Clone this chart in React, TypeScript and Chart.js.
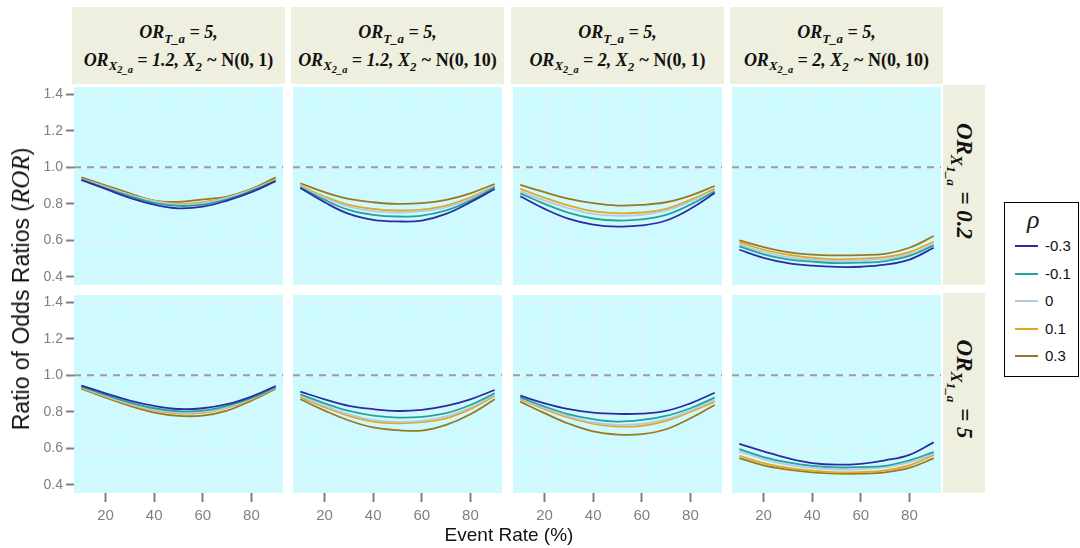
import React, { useEffect, useRef } from "react";
import { Chart, registerables } from "chart.js";
Chart.register(...registerables);

// x values (event rate, %)
const EVENT_RATE = [10, 20, 30, 40, 50, 60, 70, 80, 90];
const X_GRID = [10, 20, 30, 40, 50, 60, 70, 80, 90];
const X_LABELS = [20, 40, 60, 80];
const Y_GRID = [0.4, 0.5, 0.6, 0.7, 0.8, 0.9, 1.0, 1.1, 1.2, 1.3, 1.4];
const Y_LABELS = [0.4, 0.6, 0.8, 1.0, 1.2, 1.4];
const REF_LINE = 1.0;

const RHO_LABELS = ["-0.3", "-0.1", "0", "0.1", "0.3"];
const RHO_COLORS = ["#2b2ba6", "#23a39b", "#b6c9dd", "#e5a51c", "#9a7822"];

// each panel: series in order rho = -0.3, -0.1, 0, 0.1, 0.3
const PANEL_R1C1 = [
  [0.931, 0.882, 0.833, 0.796, 0.776, 0.785, 0.818, 0.864, 0.924],
  [0.933, 0.887, 0.842, 0.805, 0.789, 0.796, 0.825, 0.871, 0.927],
  [0.936, 0.893, 0.849, 0.815, 0.796, 0.804, 0.833, 0.876, 0.931],
  [0.936, 0.895, 0.851, 0.818, 0.8, 0.809, 0.836, 0.88, 0.933],
  [0.945, 0.902, 0.858, 0.818, 0.811, 0.825, 0.84, 0.882, 0.945],
];
const PANEL_R1C2 = [
  [0.887, 0.809, 0.745, 0.713, 0.704, 0.709, 0.745, 0.809, 0.882],
  [0.891, 0.822, 0.767, 0.74, 0.731, 0.736, 0.764, 0.818, 0.891],
  [0.896, 0.833, 0.785, 0.76, 0.753, 0.76, 0.782, 0.827, 0.895],
  [0.9, 0.84, 0.795, 0.773, 0.764, 0.769, 0.791, 0.836, 0.898],
  [0.913, 0.864, 0.827, 0.809, 0.8, 0.804, 0.822, 0.858, 0.909],
];
const PANEL_R1C3 = [
  [0.842, 0.773, 0.718, 0.687, 0.676, 0.682, 0.709, 0.773, 0.86],
  [0.858, 0.8, 0.751, 0.72, 0.709, 0.715, 0.74, 0.796, 0.867],
  [0.869, 0.818, 0.776, 0.745, 0.735, 0.74, 0.764, 0.813, 0.873],
  [0.882, 0.833, 0.791, 0.76, 0.749, 0.753, 0.773, 0.822, 0.882],
  [0.904, 0.864, 0.827, 0.804, 0.791, 0.795, 0.809, 0.845, 0.898],
];
const PANEL_R1C4 = [
  [0.549, 0.505, 0.476, 0.462, 0.455, 0.456, 0.467, 0.495, 0.56],
  [0.567, 0.524, 0.496, 0.484, 0.476, 0.478, 0.487, 0.515, 0.573],
  [0.578, 0.536, 0.509, 0.495, 0.487, 0.491, 0.5, 0.524, 0.578],
  [0.591, 0.549, 0.522, 0.505, 0.496, 0.5, 0.509, 0.536, 0.593],
  [0.6, 0.564, 0.536, 0.522, 0.518, 0.52, 0.527, 0.56, 0.624],
];
const PANEL_R2C1 = [
  [0.944, 0.902, 0.862, 0.833, 0.816, 0.82, 0.842, 0.884, 0.942],
  [0.938, 0.893, 0.851, 0.82, 0.804, 0.807, 0.833, 0.876, 0.935],
  [0.935, 0.887, 0.844, 0.811, 0.796, 0.8, 0.825, 0.873, 0.933],
  [0.931, 0.884, 0.84, 0.807, 0.791, 0.795, 0.822, 0.869, 0.931],
  [0.927, 0.878, 0.833, 0.796, 0.778, 0.78, 0.807, 0.862, 0.927],
];
const PANEL_R2C2 = [
  [0.911, 0.869, 0.833, 0.815, 0.805, 0.811, 0.833, 0.869, 0.92],
  [0.896, 0.847, 0.805, 0.78, 0.769, 0.773, 0.793, 0.838, 0.902],
  [0.887, 0.833, 0.787, 0.756, 0.745, 0.751, 0.775, 0.824, 0.893],
  [0.88, 0.825, 0.778, 0.747, 0.738, 0.744, 0.765, 0.815, 0.887],
  [0.869, 0.807, 0.753, 0.715, 0.7, 0.698, 0.729, 0.787, 0.869],
];
const PANEL_R2C3 = [
  [0.889, 0.847, 0.815, 0.796, 0.789, 0.791, 0.805, 0.847, 0.905],
  [0.88, 0.829, 0.787, 0.76, 0.747, 0.756, 0.778, 0.82, 0.878],
  [0.875, 0.82, 0.775, 0.742, 0.729, 0.735, 0.76, 0.807, 0.865],
  [0.869, 0.815, 0.769, 0.735, 0.72, 0.724, 0.751, 0.8, 0.856],
  [0.856, 0.793, 0.735, 0.693, 0.676, 0.678, 0.705, 0.765, 0.838],
];
const PANEL_R2C4 = [
  [0.625, 0.584, 0.547, 0.52, 0.511, 0.516, 0.535, 0.565, 0.633],
  [0.596, 0.553, 0.524, 0.505, 0.496, 0.498, 0.505, 0.535, 0.58],
  [0.584, 0.542, 0.511, 0.493, 0.484, 0.487, 0.498, 0.524, 0.571],
  [0.56, 0.52, 0.493, 0.478, 0.469, 0.471, 0.48, 0.507, 0.565],
  [0.547, 0.507, 0.484, 0.469, 0.462, 0.462, 0.469, 0.493, 0.547],
];

const PANELS = [
  [PANEL_R1C1, PANEL_R1C2, PANEL_R1C3, PANEL_R1C4],
  [PANEL_R2C1, PANEL_R2C2, PANEL_R2C3, PANEL_R2C4],
];

// layout
const COL_LEFT = [74, 293, 513, 732];
const PANEL_W = 209;
const ROW_TOP = [87, 295];
const PANEL_H = 198;
const Y_AXIS_W = 41;
const X_AXIS_H = 32;

const PANEL_BG = "#ccfaff";
const STRIP_BG = "#efefdf";
const SERIF = "'Liberation Serif', 'Times New Roman', serif";
const SANS = "'Liberation Sans', Arial, sans-serif";

const bgPlugin = {
  id: "panelBg",
  beforeDraw(chart: any) {
    const { ctx, chartArea } = chart;
    ctx.save();
    ctx.fillStyle = PANEL_BG;
    ctx.fillRect(chartArea.left, chartArea.top, chartArea.right - chartArea.left, chartArea.bottom - chartArea.top);
    ctx.restore();
  },
};

const refLinePlugin = {
  id: "refLine",
  beforeDatasetsDraw(chart: any) {
    const { ctx, chartArea, scales } = chart;
    const y = scales.y.getPixelForValue(REF_LINE);
    ctx.save();
    ctx.strokeStyle = "#9c9c9c";
    ctx.lineWidth = 2;
    ctx.setLineDash([7, 6]);
    ctx.beginPath();
    ctx.moveTo(chartArea.left, y);
    ctx.lineTo(chartArea.right, y);
    ctx.stroke();
    ctx.restore();
  },
};

function near(a: number, b: number) {
  return Math.abs(a - b) < 1e-6;
}

function Panel({ row, col }: { row: number; col: number }) {
  const ref = useRef<HTMLCanvasElement>(null);
  const showY = col === 0;
  const showX = row === 1;
  const left = COL_LEFT[col] - (showY ? Y_AXIS_W : 0);
  const top = ROW_TOP[row];
  const width = PANEL_W + (showY ? Y_AXIS_W : 0);
  const height = PANEL_H + (showX ? X_AXIS_H : 0);

  useEffect(() => {
    const series = PANELS[row][col];
    const chart = new Chart(ref.current!, {
      type: "line",
      data: {
        datasets: series.map((vals, i) => ({
          label: RHO_LABELS[i],
          data: EVENT_RATE.map((x, j) => ({ x, y: vals[j] })),
          borderColor: RHO_COLORS[i],
          borderWidth: 1.8,
          pointRadius: 0,
          fill: false,
          tension: 0.4,
        })),
      },
      options: {
        animation: false,
        responsive: false,
        maintainAspectRatio: false,
        layout: { padding: 0 },
        plugins: { legend: { display: false }, tooltip: { enabled: false } },
        scales: {
          x: {
            type: "linear",
            min: 7,
            max: 93,
            afterBuildTicks: (a: any) => {
              a.ticks = X_GRID.map((v) => ({ value: v }));
            },
            afterFit: (a: any) => {
              a.height = showX ? X_AXIS_H : 0;
              a.paddingLeft = 0;
              a.paddingRight = 0;
              a.paddingTop = 0;
              a.paddingBottom = 0;
            },
            border: { display: false },
            grid: {
              color: (c: any) => (X_LABELS.some((v) => near(v, c.tick?.value)) ? "#e6f4f6" : "#d9f5f8"),
              lineWidth: 1,
              drawTicks: showX,
              tickLength: 9,
              tickWidth: 2,
              tickColor: (c: any) => (X_LABELS.some((v) => near(v, c.tick?.value)) ? "#7f7f7f" : "rgba(0,0,0,0)"),
            },
            ticks: {
              display: showX,
              autoSkip: false,
              maxRotation: 0,
              padding: 5,
              color: "#7f7f7f",
              font: { family: SANS, size: 15 },
              callback: (v: any) => (X_LABELS.some((x) => near(x, v)) ? String(v) : ""),
            },
          },
          y: {
            type: "linear",
            min: 0.356,
            max: 1.44,
            afterBuildTicks: (a: any) => {
              a.ticks = Y_GRID.map((v) => ({ value: v }));
            },
            afterFit: (a: any) => {
              a.width = showY ? Y_AXIS_W : 0;
              a.paddingLeft = 0;
              a.paddingRight = 0;
              a.paddingTop = 0;
              a.paddingBottom = 0;
            },
            border: { display: false },
            grid: {
              color: (c: any) => (Y_LABELS.some((v) => near(v, c.tick?.value)) ? "#e6f4f6" : "#d9f5f8"),
              lineWidth: 1,
              drawTicks: showY,
              tickLength: 8,
              tickWidth: 2,
              tickColor: (c: any) => (Y_LABELS.some((v) => near(v, c.tick?.value)) ? "#7f7f7f" : "rgba(0,0,0,0)"),
            },
            ticks: {
              display: showY,
              autoSkip: false,
              padding: 3,
              color: "#7f7f7f",
              font: { family: SANS, size: 14 },
              callback: (v: any) => (Y_LABELS.some((y) => near(y, v)) ? Number(v).toFixed(1) : ""),
            },
          },
        },
      },
      plugins: [bgPlugin, refLinePlugin],
    } as any);
    return () => chart.destroy();
  }, [row, col]);

  return (
    <canvas
      ref={ref}
      width={width}
      height={height}
      style={{ position: "absolute", left, top, width, height }}
    />
  );
}

const TOP_STRIPS = [
  { coef: "1.2", sd: "1" },
  { coef: "1.2", sd: "10" },
  { coef: "2", sd: "1" },
  { coef: "2", sd: "10" },
];
const RIGHT_STRIPS = ["0.2", "5"];

function TopStrip({ col }: { col: number }) {
  const s = TOP_STRIPS[col];
  const sub: React.CSSProperties = { fontSize: "0.72em", verticalAlign: "-0.35em", lineHeight: 0 };
  return (
    <div
      style={{
        position: "absolute",
        left: COL_LEFT[col] - 2,
        top: 7,
        width: PANEL_W + 4,
        height: 77,
        background: STRIP_BG,
        display: "flex",
        flexDirection: "column",
        justifyContent: "center",
        alignItems: "center",
        fontFamily: SERIF,
        fontWeight: "bold",
        fontStyle: "italic",
        fontSize: 18,
        lineHeight: "28px",
        color: "#111",
        whiteSpace: "nowrap",
      }}
    >
      <div>
        OR<span style={sub}>T_a</span> = 5,
      </div>
      <div>
        OR
        <span style={sub}>
          X<span style={{ fontSize: "0.8em", verticalAlign: "-0.3em" }}>2_a</span>
        </span>{" "}
        = {s.coef}, X<span style={sub}>2</span> ~ <span style={{ fontStyle: "normal" }}>N(0, {s.sd})</span>
      </div>
    </div>
  );
}

function RightStrip({ row }: { row: number }) {
  const sub: React.CSSProperties = { fontSize: "0.72em", verticalAlign: "-0.35em", lineHeight: 0 };
  return (
    <div
      style={{
        position: "absolute",
        left: 943,
        top: ROW_TOP[row] - 2,
        width: 42,
        height: PANEL_H + 2,
        background: STRIP_BG,
      }}
    >
      <div
        style={{
          position: "absolute",
          left: 21,
          top: (PANEL_H + 2) / 2 - 4,
          transform: "translate(-50%, -50%) rotate(90deg)",
          fontFamily: SERIF,
          fontWeight: "bold",
          fontStyle: "italic",
          fontSize: 23,
          color: "#111",
          whiteSpace: "nowrap",
        }}
      >
        OR
        <span style={sub}>
          X<span style={{ fontSize: "0.8em", verticalAlign: "-0.3em" }}>1_a</span>
        </span>{" "}
        = {RIGHT_STRIPS[row]}
      </div>
    </div>
  );
}

function Legend() {
  return (
    <div
      style={{
        position: "absolute",
        left: 1004,
        top: 202,
        width: 73,
        height: 173,
        border: "1.5px solid #000",
        background: "#fff",
      }}
    >
      <div
        style={{
          position: "absolute",
          left: 22,
          top: 2,
          fontFamily: SERIF,
          fontStyle: "italic",
          fontSize: 26,
          color: "#222",
        }}
      >
        ρ
      </div>
      {RHO_LABELS.map((lab, i) => (
        <div key={lab} style={{ position: "absolute", left: 10, top: 34 + i * 27.5, height: 18, width: 62 }}>
          <div
            style={{
              position: "absolute",
              left: 0,
              top: 8,
              width: 23,
              height: 2,
              background: RHO_COLORS[i],
            }}
          />
          <div
            style={{
              position: "absolute",
              left: 30,
              top: 0,
              fontFamily: SANS,
              fontSize: 15,
              lineHeight: "18px",
              color: "#111",
            }}
          >
            {lab}
          </div>
        </div>
      ))}
    </div>
  );
}

export default function App() {
  return (
    <div style={{ position: "absolute", left: 0, top: 0, width: 1080, height: 548, background: "#fff" }}>
      {[0, 1].map((r) => [0, 1, 2, 3].map((c) => <Panel key={`${r}-${c}`} row={r} col={c} />))}
      {[0, 1, 2, 3].map((c) => (
        <TopStrip key={c} col={c} />
      ))}
      {[0, 1].map((r) => (
        <RightStrip key={r} row={r} />
      ))}
      <Legend />
      <div
        style={{
          position: "absolute",
          left: 21,
          top: 289,
          transform: "translate(-50%, -50%) rotate(-90deg)",
          whiteSpace: "nowrap",
          fontFamily: SANS,
          fontSize: 23,
          color: "#111",
        }}
      >
        Ratio of Odds Ratios (<span style={{ fontFamily: SERIF, fontStyle: "italic", fontSize: 25 }}>ROR</span>)
      </div>
      <div
        style={{
          position: "absolute",
          left: 509,
          top: 535,
          transform: "translate(-50%, -50%)",
          whiteSpace: "nowrap",
          fontFamily: SANS,
          fontSize: 19,
          color: "#111",
        }}
      >
        Event Rate (%)
      </div>
    </div>
  );
}
